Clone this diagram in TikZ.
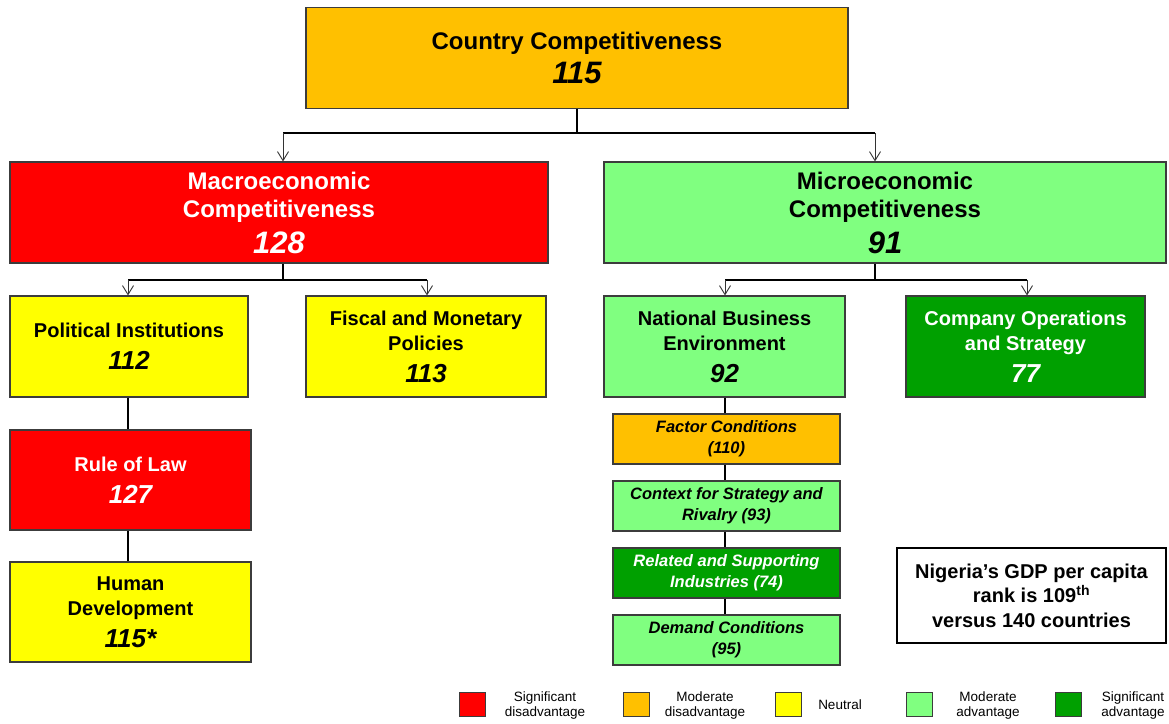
\documentclass[tikz,border=0pt]{standalone}
\usepackage{fontspec}
\setmainfont{Liberation Sans}
\usetikzlibrary{arrows.meta,calc}
\definecolor{cOrange}{RGB}{255,192,0}
\definecolor{cRed}{RGB}{255,0,0}
\definecolor{cYellow}{RGB}{255,255,0}
\definecolor{cLGreen}{RGB}{128,255,128}
\definecolor{cDGreen}{RGB}{0,160,0}
\definecolor{cBorder}{RGB}{60,60,60}
\newcommand{\bignum}{\fontsize{31}{34}\selectfont\bfseries\itshape}
\newcommand{\midnum}{\fontsize{26}{30}\selectfont\bfseries\itshape}
\tikzset{
  box/.style={draw=cBorder, line width=1.1pt, align=center, inner sep=0pt},
  bigbox/.style={box, minimum height=101pt, font=\fontsize{24}{28}\selectfont\bfseries},
  midbox/.style={box, minimum width=240pt, minimum height=101pt, font=\fontsize{20}{25}\selectfont\bfseries},
  smallbox/.style={box, minimum width=227pt, minimum height=50pt, font=\fontsize{16.5}{21}\selectfont\bfseries\itshape},
  link/.style={line width=1.8pt, black},
  arr/.style={line width=0.9pt, black!80, -{Straight Barb[length=9pt,width=11pt,line width=0.9pt]}},
  legsq/.style={draw=cBorder, line width=1pt, minimum width=26pt, minimum height=24pt, inner sep=0pt},
  legtxt/.style={align=center, font=\fontsize{13.5}{15.5}\selectfont, inner sep=0pt}
}
\begin{document}
\begin{tikzpicture}[x=1pt,y=-1pt]
\useasboundingbox[fill=white] (0,0) rectangle (1169,723);
% top
\node[bigbox, fill=cOrange, minimum width=542pt] (country) at (577,58)
  {Country Competitiveness\\[6pt]\bignum 115};
\node[bigbox, fill=cRed, minimum width=538pt, text=white] (macro) at (279,212.5)
  {Macroeconomic\\Competitiveness\\[8pt]\bignum 128};
\node[bigbox, fill=cLGreen, minimum width=562pt] (micro) at (885,212.5)
  {Microeconomic\\Competitiveness\\[8pt]\bignum 91};
% second level
\node[midbox, fill=cYellow, minimum width=238pt] (polit) at (129,346.5)
  {Political Institutions\\[7pt]\midnum 112};
\node[midbox, fill=cYellow] (fiscal) at (426,346.5)
  {Fiscal and Monetary\\Policies\\[7pt]\midnum 113};
\node[midbox, fill=cLGreen, minimum width=241pt] (nbe) at (724.5,346.5)
  {National Business\\Environment\\[7pt]\midnum 92};
\node[midbox, fill=cDGreen, minimum width=239pt, text=white] (company) at (1025.5,346.5)
  {Company Operations\\and Strategy\\[7pt]\midnum 77};
% left column
\node[midbox, fill=cRed, minimum width=241pt, minimum height=100pt, text=white] (rule) at (130.5,480)
  {Rule of Law\\[7pt]\midnum 127};
\node[midbox, fill=cYellow, minimum width=241pt, minimum height=100pt] (human) at (130.5,612)
  {Human\\Development\\[7pt]\midnum 115*};
% right column
\node[smallbox, fill=cOrange] (factor) at (726.5,439)
  {Factor Conditions\\(110)};
\node[smallbox, fill=cLGreen] (context) at (726.5,506)
  {Context for Strategy and\\Rivalry (93)};
\node[smallbox, fill=cDGreen, text=white] (related) at (726.5,573)
  {Related and Supporting\\Industries (74)};
\node[smallbox, fill=cLGreen] (demand) at (726.5,640)
  {Demand Conditions\\(95)};
% note
\node[draw=black, line width=2pt, fill=white, minimum width=269pt, minimum height=95pt, align=center, inner sep=0pt, font=\fontsize{20}{24.5}\selectfont\bfseries] (note) at (1031.5,595.5)
  {Nigeria’s GDP per capita\\rank is 109\textsuperscript{th}\\versus 140 countries};
% connectors
\coordinate (j0) at (577,133);
\coordinate (j0l) at (283,133);
\coordinate (j0r) at (875,133);
\draw[link] (country.south) -- (j0);
\draw[link] (j0l) -- (j0r);
\draw[arr] (j0l) -- (macro.north -| j0l);
\draw[arr] (j0r) -- (micro.north -| j0r);
\coordinate (j1) at (283,280);
\coordinate (j1l) at (128,280);
\coordinate (j1r) at (427,280);
\draw[link] (macro.south -| j1) -- (j1);
\draw[link] (j1l) -- (j1r);
\draw[arr] (j1l) -- (polit.north -| j1l);
\draw[arr] (j1r) -- (fiscal.north -| j1r);
\coordinate (j2) at (875,280);
\coordinate (j2l) at (725,280);
\coordinate (j2r) at (1027,280);
\draw[link] (micro.south -| j2) -- (j2);
\draw[link] (j2l) -- (j2r);
\draw[arr] (j2l) -- (nbe.north -| j2l);
\draw[arr] (j2r) -- (company.north -| j2r);
\coordinate (cl) at (128,0);
\coordinate (cr) at (725,0);
\draw[link] (polit.south -| cl) -- (rule.north -| cl);
\draw[link] (rule.south -| cl) -- (human.north -| cl);
\draw[link] (nbe.south -| cr) -- (factor.north -| cr);
\draw[link] (factor.south -| cr) -- (context.north -| cr);
\draw[link] (context.south -| cr) -- (related.north -| cr);
\draw[link] (related.south -| cr) -- (demand.north -| cr);
% legend
\node[legsq, fill=cRed] (lg1) at (472,704) {};
\node[legtxt] (lt1) at (545,705.5) {Significant\\disadvantage};
\node[legsq, fill=cOrange] (lg2) at (636,704) {};
\node[legtxt] (lt2) at (705,705.5) {Moderate\\disadvantage};
\node[legsq, fill=cYellow] (lg3) at (788,704) {};
\node[legtxt] (lt3) at (840,705) {Neutral};
\node[legsq, fill=cLGreen] (lg4) at (919.5,704) {};
\node[legtxt] (lt4) at (988,705.5) {Moderate\\advantage};
\node[legsq, fill=cDGreen] (lg5) at (1068.5,704) {};
\node[legtxt] (lt5) at (1133,705.5) {Significant\\advantage};
\end{tikzpicture}
\end{document}
